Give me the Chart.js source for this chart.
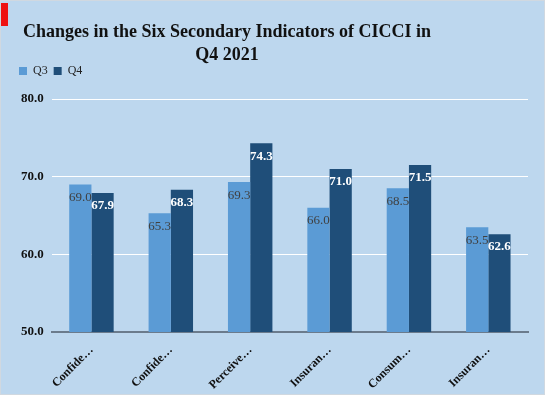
<!DOCTYPE html>
<html>
<head>
<meta charset="utf-8">
<script src="https://cdn.jsdelivr.net/npm/chart.js@4/dist/chart.umd.min.js"></script>
<style>
  html, body { margin: 0; padding: 0; background: #BDD7EE; }
  #wrap { position: relative; width: 545px; height: 395px; box-sizing: border-box; border: 1px solid #d0d8e0; }
  #mark { position: absolute; left: 0; top: 2px; width: 7px; height: 23px; background: #ee1111; }
  #title { position: absolute; left: 0; top: 19px; width: 452px; text-align: center;
           font: bold 18px 'Liberation Serif', 'Times New Roman', serif; line-height: 23px; color: #111; }
</style>
</head>
<body>
<div id="wrap">
  <div id="mark"></div>
  <div id="title">Changes in the Six Secondary Indicators of CICCI in<br>Q4 2021</div>
  <canvas id="chart" width="543" height="393"></canvas>
</div>
<script>
const categories = ["Confide…", "Confide…", "Perceive…", "Insuran…", "Consum…", "Insuran…"];
const q3Values = [69.0, 65.3, 69.3, 66.0, 68.5, 63.5];
const q4Values = [67.9, 68.3, 74.3, 71.0, 71.5, 62.6];
const yTicks = [50, 60, 70, 80];

const serif = "'Liberation Serif', 'Times New Roman', serif";

// draws the value inside the top of each bar
const barLabels = {
  id: "barLabels",
  afterDatasetsDraw(chart) {
    const ctx = chart.ctx;
    chart.data.datasets.forEach((ds, i) => {
      const meta = chart.getDatasetMeta(i);
      meta.data.forEach((bar, j) => {
        ctx.save();
        ctx.font = (i === 1 ? "bold " : "") + "13px " + serif;
        ctx.fillStyle = i === 1 ? "#ffffff" : "#404040";
        ctx.textAlign = "center";
        ctx.textBaseline = "middle";
        ctx.fillText(ds.data[j].toFixed(1), bar.x, bar.y + 13);
        ctx.restore();
      });
    });
  }
};

// a bit of room under the legend
const legendGap = {
  id: "legendGap",
  beforeInit(chart) {
    const fit = chart.legend.fit;
    chart.legend.fit = function () {
      fit.call(this);
      this.height += 12;
    };
  }
};

new Chart(document.getElementById("chart"), {
  type: "bar",
  data: {
    labels: categories,
    datasets: [
      { label: "Q3", data: q3Values, backgroundColor: "#5B9BD5", barPercentage: 1, categoryPercentage: 0.56 },
      { label: "Q4", data: q4Values, backgroundColor: "#1F4E79", barPercentage: 1, categoryPercentage: 0.56 }
    ]
  },
  options: {
    responsive: false,
    animation: false,
    layout: { padding: { left: 12, right: 16, top: 58, bottom: 2 } },
    plugins: {
      legend: {
        align: "start",
        labels: {
          boxWidth: 8, boxHeight: 8, padding: 6,
          color: "#222",
          font: { family: serif, size: 12 }
        }
      },
      tooltip: { enabled: false }
    },
    scales: {
      x: {
        afterFit: axis => { axis.height = 60; },
        grid: { display: false },
        border: { color: "#6b7b8c", width: 2 },
        ticks: {
          color: "#111",
          maxRotation: 45, minRotation: 45,
          font: { family: serif, size: 12, weight: "bold" }
        }
      },
      y: {
        min: 50, max: 80,
        afterBuildTicks: axis => { axis.ticks = yTicks.map(v => ({ value: v })); },
        grid: { color: "#ffffff", lineWidth: 1, drawTicks: false },
        border: { display: false },
        ticks: {
          padding: 8,
          color: "#111",
          font: { family: serif, size: 13, weight: "bold" },
          callback: v => v.toFixed(1)
        }
      }
    }
  },
  plugins: [barLabels, legendGap]
});
</script>
</body>
</html>
